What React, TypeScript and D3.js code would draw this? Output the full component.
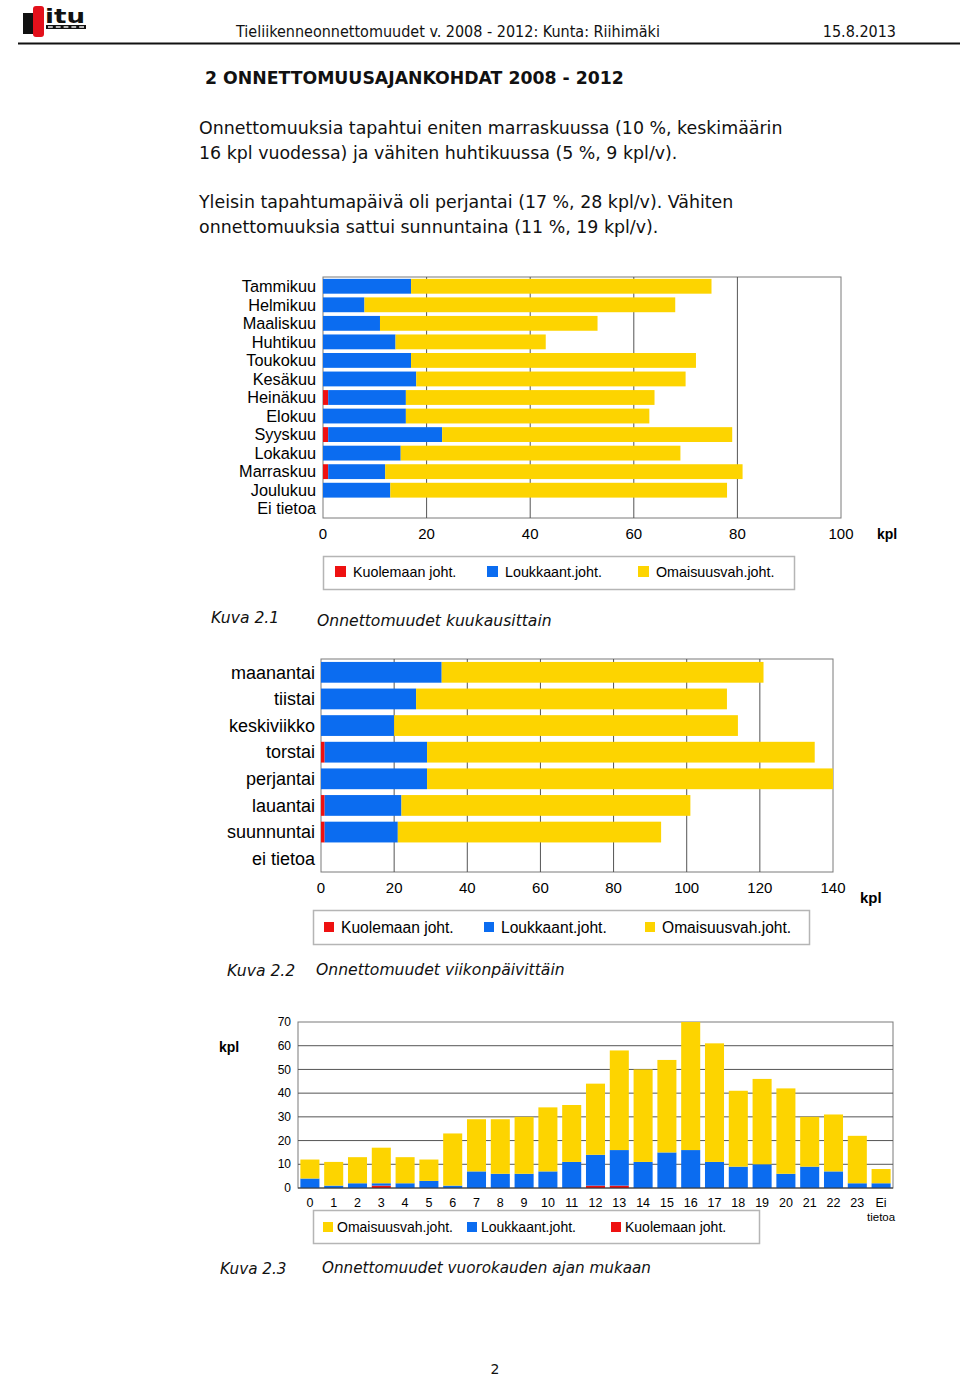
import React from "react";
import * as d3 from "d3";

const RED = "#ee1111";
const BLUE = "#0b6cf0";
const YELLOW = "#fdd400";

// Chart 2.1 months
const months = ["Tammikuu","Helmikuu","Maaliskuu","Huhtikuu","Toukokuu","Kesäkuu","Heinäkuu","Elokuu","Syyskuu","Lokakuu","Marraskuu","Joulukuu","Ei tietoa"];
const monthDeath = [0,0,0,0,0,0,1,0,1,0,1,0,0];
const monthInjury = [17,8,11,14,17,18,15,16,22,15,11,13,0];
const monthProperty = [58,60,42,29,55,52,48,47,56,54,69,65,0];
const monthTicks = [0,20,40,60,80,100];

// Chart 2.2 weekdays
const weekdays = ["maanantai","tiistai","keskiviikko","torstai","perjantai","lauantai","suunnuntai","ei tietoa"];
const dayDeath = [0,0,0,1,0,1,1,0];
const dayInjury = [33,26,20,28,29,21,20,0];
const dayProperty = [88,85,94,106,111,79,72,0];
const dayTicks = [0,20,40,60,80,100,120,140];

// Chart 2.3 hours
const hours = ["0","1","2","3","4","5","6","7","8","9","10","11","12","13","14","15","16","17","18","19","20","21","22","23","Ei tietoa"];
const hourDeath = [0,0,0,1,0,0,0,0,0,0,0,0,1,1,0,0,0,0,0,0,0,0,0,0,0];
const hourInjury = [4,1,2,1,2,3,1,7,6,6,7,11,13,15,11,15,16,11,9,10,6,9,7,2,2];
const hourProperty = [8,10,11,15,11,9,22,22,23,24,27,24,30,42,39,39,54,50,32,36,36,21,24,20,6];
const hourTicks = [0,10,20,30,40,50,60,70];

const keys = ["death","injury","property"];
const colors: Record<string, string> = { death: RED, injury: BLUE, property: YELLOW };

const SANS = "'Liberation Sans', Arial, sans-serif";
const VERD = "'DejaVu Sans', Verdana, sans-serif";
const COND = "'DejaVu Sans Condensed', 'DejaVu Sans', sans-serif";

function buildRows(cats: string[], a: number[], b: number[], c: number[]) {
  return cats.map((cat, i) => ({ cat, death: a[i], injury: b[i], property: c[i] }));
}

type HProps = {
  cats: string[]; death: number[]; injury: number[]; property: number[]; ticks: number[];
  x0: number; x1: number; y0: number; y1: number; pad: number;
  labelSize: number; labelX: number; tickSize: number; tickY: number;
  kplX: number; kplY: number; kplSize: number;
};

function HBar(p: HProps) {
  const rows = buildRows(p.cats, p.death, p.injury, p.property);
  const x = d3.scaleLinear().domain([0, p.ticks[p.ticks.length - 1]]).range([p.x0, p.x1]);
  const y = d3.scaleBand().domain(p.cats).range([p.y0, p.y1]).paddingInner(p.pad).paddingOuter(p.pad / 2);
  const series = d3.stack<any>().keys(keys)(rows as any);
  return (
    <g>
      <rect x={p.x0} y={p.y0} width={p.x1 - p.x0} height={p.y1 - p.y0} fill="white" stroke="#7a7a7a" strokeWidth={1} />
      {p.ticks.slice(1, -1).map((t) => (
        <line key={t} x1={x(t)} x2={x(t)} y1={p.y0} y2={p.y1} stroke="#555" strokeWidth={1} />
      ))}
      {series.map((s) => (
        <g key={s.key} fill={colors[s.key]}>
          {s.map((d, i) => (
            d[1] - d[0] > 0 ? (
              <rect key={i} x={x(d[0])} y={y(rows[i].cat)!} width={x(d[1]) - x(d[0])} height={y.bandwidth()} />
            ) : null
          ))}
        </g>
      ))}
      {p.cats.map((c) => (
        <text key={c} x={p.labelX} y={y(c)! + y.bandwidth() / 2} dy="0.35em" textAnchor="end" fontFamily={SANS} fontSize={p.labelSize} fill="#000">{c}</text>
      ))}
      {p.ticks.map((t) => (
        <text key={t} x={x(t)} y={p.tickY} textAnchor="middle" fontFamily={SANS} fontSize={p.tickSize} fill="#000">{t}</text>
      ))}
      <text x={p.kplX} y={p.kplY} fontFamily={SANS} fontWeight="bold" fontSize={p.kplSize} fill="#000">kpl</text>
    </g>
  );
}

type LegendItem = { key: string; label: string; sq: number; tx: number };
function Legend({ x, y, w, h, items, base, size, sqY, sqS }: { x: number; y: number; w: number; h: number; items: LegendItem[]; base: number; size: number; sqY: number; sqS: number }) {
  return (
    <g>
      <rect x={x + 0.5} y={y + 0.5} width={w} height={h} fill="white" stroke="#b5b5b5" strokeWidth={1.5} />
      {items.map((it) => (
        <g key={it.key}>
          <rect x={it.sq} y={sqY} width={sqS} height={sqS} fill={colors[it.key]} />
          <text x={it.tx} y={base} fontFamily={SANS} fontSize={size} fill="#000">{it.label}</text>
        </g>
      ))}
    </g>
  );
}

function VBar() {
  const x0 = 298, x1 = 893, y0 = 1022, y1 = 1188;
  const rows = buildRows(hours, hourDeath, hourInjury, hourProperty);
  const x = d3.scaleBand().domain(hours).range([x0, x1]).paddingInner(0.2).paddingOuter(0.1);
  const y = d3.scaleLinear().domain([0, 70]).range([y1, y0]);
  const series = d3.stack<any>().keys(keys)(rows as any);
  return (
    <g>
      <rect x={x0} y={y0} width={x1 - x0} height={y1 - y0} fill="white" stroke="#7a7a7a" strokeWidth={1} />
      {hourTicks.slice(1, -1).map((t) => (
        <line key={t} x1={x0} x2={x1} y1={y(t)} y2={y(t)} stroke="#555" strokeWidth={1} />
      ))}
      {series.map((s) => (
        <g key={s.key} fill={colors[s.key]}>
          {s.map((d, i) => (
            d[1] - d[0] > 0 ? (
              <rect key={i} x={x(rows[i].cat)!} y={y(d[1])} width={x.bandwidth()} height={y(d[0]) - y(d[1])} />
            ) : null
          ))}
        </g>
      ))}
      <line x1={x0} x2={x1} y1={y1} y2={y1} stroke="#333" strokeWidth={1.2} />
      {hourTicks.map((t) => (
        <text key={t} x={291} y={y(t)} dy="0.35em" textAnchor="end" fontFamily={SANS} fontSize={12} fill="#000">{t}</text>
      ))}
      {hours.map((h) => {
        const cx = x(h)! + x.bandwidth() / 2;
        const parts = h.split(" ");
        return (
          <text key={h} x={cx} y={1207} textAnchor="middle" fontFamily={SANS} fontSize={12.5} fill="#000">
            {parts.map((pt, j) => (
              <tspan key={j} x={cx} dy={j === 0 ? 0 : 14} fontSize={j === 0 ? 12.5 : 11.5}>{pt}</tspan>
            ))}
          </text>
        );
      })}
      <text x={219} y={1052} fontFamily={SANS} fontWeight="bold" fontSize={14} fill="#000">kpl</text>
    </g>
  );
}

function Logo() {
  return (
    <g>
      <rect x={23} y={13} width={11} height={21} fill="#111" />
      <rect x={33} y={6} width={11} height={31} rx={3} fill="#e3101b" />
      <text x={45} y={23} fontFamily={VERD} fontWeight="bold" fontSize={19} textLength={40} lengthAdjust="spacingAndGlyphs" fill="#111">itu</text>
      <rect x={46} y={25} width={40} height={4} fill="#111" />
      {[0, 1, 2, 3, 4].map((i) => (
        <rect key={i} x={48 + i * 7.8} y={26.3} width={4.8} height={1.4} fill="#fff" />
      ))}
    </g>
  );
}

export default function App() {
  return (
    <svg width={960} height={1376} style={{ position: "absolute", left: 0, top: 0, background: "white" }}>
      <rect x={0} y={0} width={960} height={1376} fill="white" />
      <Logo />
      <text x={236} y={37} fontFamily={COND} fontSize={16} fill="#111">Tieliikenneonnettomuudet v. 2008 - 2012: Kunta: Riihimäki</text>
      <text x={896} y={37} textAnchor="end" fontFamily={COND} fontSize={16} fill="#111">15.8.2013</text>
      <line x1={18} x2={960} y1={43.5} y2={43.5} stroke="#111" strokeWidth={2} />

      <text x={205} y={84} fontFamily={VERD} fontWeight="bold" fontSize={17.3} fill="#111">2 ONNETTOMUUSAJANKOHDAT 2008 - 2012</text>
      <g fontFamily={VERD} fontSize={17.4} fill="#111">
        <text x={199} y={134}>Onnettomuuksia tapahtui eniten marraskuussa (10 %, keskimäärin</text>
        <text x={199} y={159}>16 kpl vuodessa) ja vähiten huhtikuussa (5 %, 9 kpl/v).</text>
        <text x={199} y={208}>Yleisin tapahtumapäivä oli perjantai (17 %, 28 kpl/v). Vähiten</text>
        <text x={199} y={233}>onnettomuuksia sattui sunnuntaina (11 %, 19 kpl/v).</text>
      </g>

      <HBar cats={months} death={monthDeath} injury={monthInjury} property={monthProperty} ticks={monthTicks}
        x0={323} x1={841} y0={277} y1={518} pad={0.2} labelSize={16.3} labelX={316} tickSize={15} tickY={539}
        kplX={877} kplY={539} kplSize={14} />
      <Legend x={323} y={556} w={471} h={33} base={577} size={14.3} sqY={566} sqS={11}
        items={[{ key: "death", label: "Kuolemaan joht.", sq: 335, tx: 353 }, { key: "injury", label: "Loukkaant.joht.", sq: 487, tx: 505 }, { key: "property", label: "Omaisuusvah.joht.", sq: 638, tx: 656 }]} />
      <g fontFamily={VERD} fontStyle="italic" fontSize={15.6} fill="#111">
        <text x={211} y={623}>Kuva 2.1</text>
        <text x={317} y={626}>Onnettomuudet kuukausittain</text>
      </g>

      <HBar cats={weekdays} death={dayDeath} injury={dayInjury} property={dayProperty} ticks={dayTicks}
        x0={321} x1={833} y0={659} y1={872} pad={0.22} labelSize={18} labelX={315} tickSize={15} tickY={893}
        kplX={860} kplY={903} kplSize={15} />
      <Legend x={313} y={910} w={496} h={34} base={933} size={15.6} sqY={922} sqS={10}
        items={[{ key: "death", label: "Kuolemaan joht.", sq: 324, tx: 341 }, { key: "injury", label: "Loukkaant.joht.", sq: 484, tx: 501 }, { key: "property", label: "Omaisuusvah.joht.", sq: 645, tx: 662 }]} />
      <g fontFamily={VERD} fontStyle="italic" fontSize={15.6} fill="#111">
        <text x={227} y={976}>Kuva 2.2</text>
        <text x={316} y={975}>Onnettomuudet viikonpäivittäin</text>
      </g>

      <VBar />
      <Legend x={313} y={1210} w={446} h={33} base={1232} size={14} sqY={1222} sqS={10}
        items={[{ key: "property", label: "Omaisuusvah.joht.", sq: 323, tx: 337 }, { key: "injury", label: "Loukkaant.joht.", sq: 467, tx: 481 }, { key: "death", label: "Kuolemaan joht.", sq: 611, tx: 625 }]} />
      <g fontFamily={VERD} fontStyle="italic" fontSize={15.2} fill="#111">
        <text x={220} y={1274}>Kuva 2.3</text>
        <text x={322} y={1273}>Onnettomuudet vuorokauden ajan mukaan</text>
      </g>

      <text x={495} y={1374} textAnchor="middle" fontFamily={VERD} fontSize={14} fill="#111">2</text>
    </svg>
  );
}
